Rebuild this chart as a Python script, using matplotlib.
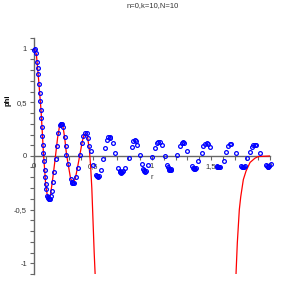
import numpy as np
import matplotlib
matplotlib.use("Agg")
import matplotlib.pyplot as plt

plt.rcParams['font.family'] = ['Liberation Sans', 'DejaVu Sans']

title = "n=0,k=10,N=10"

# blue markers: sampled phi(r)
r_pts = [0.003, 0.008, 0.017, 0.025, 0.031, 0.036, 0.045, 0.051, 0.053, 0.059,
         0.062, 0.065, 0.070, 0.076, 0.079, 0.085, 0.091, 0.096, 0.099, 0.104,
         0.110, 0.116, 0.121, 0.127, 0.131, 0.136, 0.142, 0.150, 0.164, 0.169,
         0.184, 0.192, 0.206, 0.218, 0.225, 0.233, 0.240, 0.248, 0.263, 0.269,
         0.275, 0.291, 0.311, 0.318, 0.326, 0.332, 0.339, 0.356, 0.375, 0.390,
         0.404, 0.418, 0.432, 0.445, 0.455, 0.469, 0.481, 0.503, 0.525, 0.531,
         0.538, 0.545, 0.551, 0.565, 0.587, 0.602, 0.619, 0.631, 0.640, 0.648,
         0.667, 0.686, 0.714, 0.725, 0.730, 0.735, 0.740, 0.746, 0.754, 0.771,
         0.805, 0.828, 0.839, 0.852, 0.864, 0.875, 0.898, 0.913, 0.924, 0.928,
         0.932, 0.938, 0.945, 0.969, 1.003, 1.025, 1.042, 1.053, 1.064, 1.083,
         1.110, 1.125, 1.133, 1.140, 1.147, 1.153, 1.159, 1.165, 1.209, 1.237,
         1.252, 1.263, 1.275, 1.299, 1.336, 1.344, 1.352, 1.358, 1.364, 1.377,
         1.392, 1.421, 1.435, 1.453, 1.464, 1.475, 1.492, 1.547, 1.554, 1.562,
         1.569, 1.576, 1.610, 1.627, 1.647, 1.657, 1.669, 1.712, 1.758, 1.766,
         1.774, 1.781, 1.788, 1.803, 1.831, 1.845, 1.856, 1.869, 1.881, 1.915,
         1.966, 1.972, 1.979, 1.984, 1.989, 2.006]
phi_pts = [0.99, 1.00, 0.96, 0.88, 0.82, 0.76, 0.67, 0.59, 0.51, 0.43,
           0.35, 0.27, 0.19, 0.10, 0.03, -0.05, -0.13, -0.20, -0.26, -0.31,
           -0.37, -0.385, -0.39, -0.40, -0.40, -0.40, -0.37, -0.33, -0.24, -0.15,
           -0.03, 0.09, 0.21, 0.29, 0.30, 0.30, 0.30, 0.27, 0.18, 0.09,
           0.01, -0.07, -0.21, -0.24, -0.25, -0.255, -0.25, -0.20, -0.11, 0.01,
           0.12, 0.19, 0.21, 0.21, 0.17, 0.09, 0.05, -0.08, -0.18, -0.19,
           -0.19, -0.195, -0.19, -0.13, -0.03, 0.07, 0.15, 0.18, 0.18, 0.17,
           0.12, 0.03, -0.11, -0.14, -0.152, -0.15, -0.155, -0.15, -0.14, -0.11,
           -0.02, 0.08, 0.14, 0.15, 0.14, 0.10, 0.01, -0.07, -0.12, -0.135,
           -0.14, -0.145, -0.14, -0.08, -0.01, 0.07, 0.125, 0.13, 0.13, 0.10,
           0.00, -0.08, -0.10, -0.12, -0.13, -0.13, -0.13, -0.125, 0.01, 0.09,
           0.12, 0.13, 0.12, 0.05, -0.09, -0.11, -0.115, -0.12, -0.12, -0.11,
           -0.05, 0.025, 0.09, 0.115, 0.12, 0.11, 0.08, -0.09, -0.10, -0.10,
           -0.105, -0.10, -0.045, 0.04, 0.09, 0.115, 0.115, 0.025, -0.09, -0.10,
           -0.10, -0.10, -0.09, -0.02, 0.04, 0.08, 0.10, 0.105, 0.10, 0.03,
           -0.08, -0.095, -0.10, -0.10, -0.095, -0.07]

# red curve, near-origin part
r_left = [0.0, 0.02, 0.04, 0.06, 0.08, 0.10, 0.115, 0.127, 0.14, 0.16,
          0.18, 0.20, 0.215, 0.23, 0.245, 0.26, 0.275, 0.29, 0.31, 0.33,
          0.35, 0.37, 0.39, 0.41, 0.425, 0.44, 0.455, 0.47, 0.48, 0.49,
          0.50, 0.51, 0.518]
phi_left = [1.0, 0.95, 0.70, 0.42, 0.03, -0.28, -0.38, -0.40, -0.36, -0.20,
            -0.02, 0.17, 0.27, 0.30, 0.28, 0.17, 0.02, -0.08, -0.21, -0.25,
            -0.21, -0.10, 0.02, 0.14, 0.20, 0.21, 0.17, 0.05, -0.10, -0.30,
            -0.60, -0.90, -1.10]

# red curve, far part
r_right = [1.712, 1.723, 1.740, 1.752, 1.774, 1.797, 1.831, 1.873, 1.901, 2.0]
phi_right = [-1.10, -0.81, -0.50, -0.38, -0.22, -0.14, -0.06, -0.02, -0.005, 0.0]

xtick_vals = [0.0, 0.5, 1.0, 1.5, 2.0]
xtick_text = ["0", "0,5", "1", "1,5", "2"]
ytick_vals = [-1.0, -0.5, 0.0, 0.5, 1.0]
ytick_text = ["-1", "-0,5", "0", "0,5", "1"]

fig = plt.figure(figsize=(3.05, 3.05), dpi=100)
ax = fig.add_axes([34 / 305, 31 / 305, 236 / 305, 236 / 305])

ax.plot(r_left, phi_left, color='red', lw=0.9, zorder=2)
ax.plot(r_right, phi_right, color='red', lw=0.9, zorder=2)
ax.plot(r_pts, phi_pts, ls='none', marker='o', ms=2.7, mfc='none',
        mec='blue', mew=0.9, zorder=3, clip_on=False)

ax.set_xlim(0, 2)
ax.set_ylim(-1.1, 1.1)

axis_col = '#666666'
ax.spines['top'].set_visible(False)
ax.spines['right'].set_visible(False)
ax.spines['bottom'].set_position(('data', 0))
ax.spines['left'].set_position(('data', 0))
for s in ('bottom', 'left'):
    ax.spines[s].set_color(axis_col)
    ax.spines[s].set_linewidth(1.0)
    ax.spines[s].set_zorder(1)

xt = np.round(np.arange(0, 2.0001, 0.1), 2)
yt = np.round(np.arange(-1.1, 1.1001, 0.1), 2)
ax.set_xticks(xt)
ax.set_yticks(yt)
ax.set_xticklabels([xtick_text[xtick_vals.index(v)] if v in xtick_vals else '' for v in xt])
ax.set_yticklabels([ytick_text[ytick_vals.index(v)] if v in ytick_vals else '' for v in yt])
ax.tick_params(axis='both', direction='out', length=3, width=0.8, color=axis_col,
               labelsize=5.5, labelcolor='#333333', pad=2)

ax.text(1.0, -0.2, 'r', fontsize=5.5, color='#333333', ha='center', va='center')
ax.text(-0.11, 0.52, 'phi', transform=ax.get_yaxis_transform(), rotation=90,
        fontsize=5.5, fontweight='bold', ha='center', va='center')
fig.text(0.5, 1 - 6 / 305, title, fontsize=5.5, color='#333333', ha='center', va='center')

fig.savefig('out.png', dpi=100)
